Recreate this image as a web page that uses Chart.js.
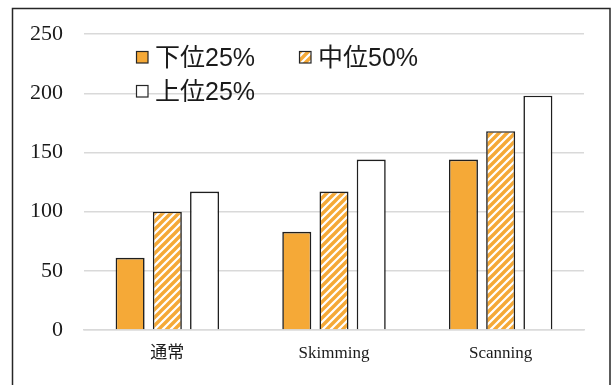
<!DOCTYPE html>
<html><head><meta charset="utf-8">
<script src="https://cdn.jsdelivr.net/npm/chart.js@4"></script>
<style>html,body{margin:0;padding:0;background:#fff}#wrap{width:613px;height:385px;position:relative}</style>
</head><body><div id="wrap"><canvas id="c" width="613" height="385"></canvas></div>
<script>
const categories = ['通常', 'Skimming', 'Scanning'];
const seriesNames = ['下位25%', '中位50%', '上位25%'];
const lower25 = [61, 83, 144];
const middle50 = [100, 117, 168];
const upper25 = [117, 144, 198];
const yTicks = [0, 50, 100, 150, 200, 250];

const ORANGE = '#F5A937';
function makeHatch() {
  const s = 8;
  const cv = document.createElement('canvas');
  cv.width = s; cv.height = s;
  const g = cv.getContext('2d');
  g.fillStyle = '#fff'; g.fillRect(0, 0, s, s);
  g.strokeStyle = ORANGE; g.lineWidth = 3.4;
  g.beginPath();
  g.moveTo(-2, s + 2); g.lineTo(s + 2, -2);
  g.moveTo(-2 - s, s + 2); g.lineTo(2, -2);
  g.moveTo(s - 2, s + 2); g.lineTo(s * 2 + 2, -2);
  g.stroke();
  return g.createPattern(cv, 'repeat');
}
const hatch = makeHatch();

const frame = {
  id: 'frame',
  beforeDraw(chart) {
    const ctx = chart.ctx;
    ctx.save();
    ctx.fillStyle = '#fff';
    ctx.fillRect(0, 0, chart.width, chart.height);
    ctx.strokeStyle = '#262626'; ctx.lineWidth = 1.5;
    ctx.strokeRect(12.5, 8.5, 597.5, 400);
    ctx.restore();
  }
};

const legendPlugin = {
  id: 'customLegend',
  afterDraw(chart) {
    const ctx = chart.ctx;
    const pos = [[136, 51], [299, 51], [136, 85]];
    ctx.save();
    chart.data.datasets.forEach((ds, i) => {
      const [x, y] = pos[i];
      ctx.fillStyle = ds.backgroundColor;
      ctx.fillRect(x, y, 12, 12);
      ctx.strokeStyle = '#262626'; ctx.lineWidth = 1.2;
      ctx.strokeRect(x + 0.5, y + 0.5, 11.5, 11.5);
      ctx.fillStyle = '#1a1a1a';
      ctx.font = '25px "Liberation Sans", "Noto Sans CJK JP", sans-serif';
      ctx.textBaseline = 'middle';
      ctx.fillText(ds.label, x + 19, y + 8.5);
    });
    ctx.restore();
  }
};

new Chart(document.getElementById('c'), {
  type: 'bar',
  data: {
    labels: categories,
    datasets: [
      { label: seriesNames[0], data: lower25, backgroundColor: ORANGE },
      { label: seriesNames[1], data: middle50, backgroundColor: hatch },
      { label: seriesNames[2], data: upper25, backgroundColor: '#ffffff' }
    ].map(d => Object.assign(d, { borderColor: '#1f1f1f', borderWidth: 1.6, categoryPercentage: 0.67, barPercentage: 0.78 }))
  },
  options: {
    responsive: false,
    animation: false,
    devicePixelRatio: 1,
    layout: { padding: { top: 33, right: 29, bottom: 0, left: 0 } },
    plugins: { legend: { display: false }, tooltip: { enabled: false } },
    scales: {
      x: {
        grid: { display: false, drawTicks: false },
        border: { display: true, color: '#d9d9d9', width: 1.5 },
        ticks: {
          color: '#1a1a1a', padding: 13,
          font: { family: '"Liberation Serif", "Noto Sans CJK JP", serif', size: 17 }
        },
        afterFit(s) { s.height = 55; }
      },
      y: {
        min: 0, max: 250,
        afterBuildTicks(s) { s.ticks = yTicks.map(v => ({ value: v })); },
        grid: { color: '#d9d9d9', lineWidth: 1.5, drawTicks: false },
        border: { display: false },
        ticks: {
          color: '#1a1a1a', padding: 21,
          font: { family: '"Liberation Serif", serif', size: 22 }
        },
        afterFit(s) { s.width = 84; }
      }
    }
  },
  plugins: [frame, legendPlugin]
});
</script></body></html>
